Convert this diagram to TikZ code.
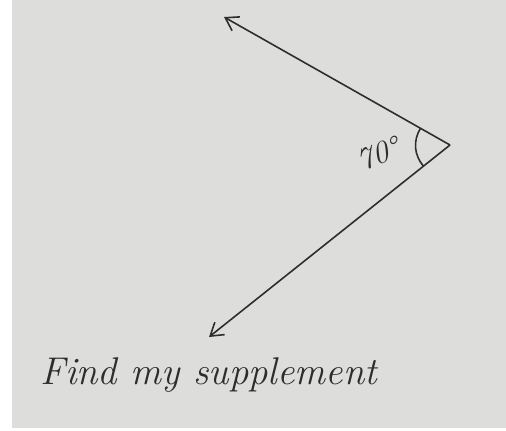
\documentclass[tikz,border=0pt]{standalone}
\usetikzlibrary{arrows.meta,calc}
\definecolor{paper}{RGB}{221,221,219}
\definecolor{ink}{RGB}{45,45,45}
\begin{document}
\begin{tikzpicture}[
            x=0.02cm, y=-0.02cm,
            ray/.style={
                    ink,
                    line width=0.9pt,
                    -{Straight Barb[length=7pt, width=9pt]}
                },
            anglearc/.style={
                    ink,
                    line width=0.9pt
                },
            hand/.style={
                    ink,
                    font=\itshape\fontsize{22}{26}\selectfont,
                    inner sep=0pt
                }
        ]

        \useasboundingbox (0,0) rectangle (506,430);
        \fill[white] (0,0) rectangle (506,430);
        \fill[paper] (12,0) rectangle (506,428);

        \coordinate (vertex) at (450, 145);
        \coordinate (upper) at (224, 17);
        \coordinate (lower) at (209, 337);

        \draw[ray] (vertex) -- (upper);
        \draw[ray] (vertex) -- (lower);

        \coordinate (arcup) at ($(vertex)!0.68cm!(upper)$);
        \coordinate (arclow) at ($(vertex)!0.68cm!(lower)$);
        \draw[anglearc] (arcup) to[bend right=35] (arclow);

        \node[hand, font=\itshape\fontsize{18}{20}\selectfont, rotate=20] (angle) at (378, 154) {70°};
        \node[hand, anchor=base west] (task) at (40, 384) {Find my supplement};

    \end{tikzpicture}
\end{document}
